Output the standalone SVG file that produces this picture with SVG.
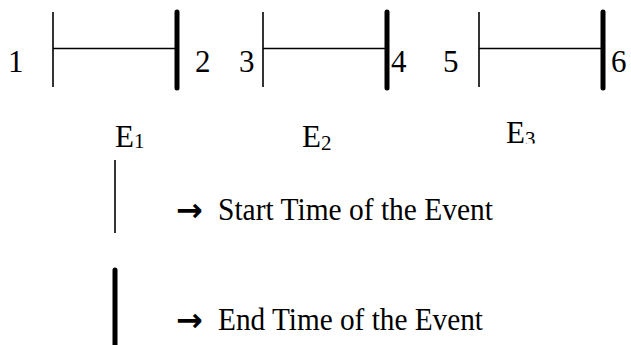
<svg xmlns="http://www.w3.org/2000/svg" width="631" height="345" viewBox="0 0 631 345">
<style>
text{font-family:"Liberation Serif","Times New Roman",serif;font-size:31px;fill:#000}
text.sub,tspan.sub{font-size:21px}
text.arr{font-family:"DejaVu Sans",sans-serif;font-size:32px;font-weight:bold}
.thin{stroke:#000;stroke-width:1.6;fill:none}
.thick{stroke:#000;stroke-width:5;stroke-linecap:round;fill:none}
</style>
<defs>
<clipPath id="clipE3"><rect x="490" y="100" width="100" height="43.5"/></clipPath>
</defs>
<rect width="631" height="345" fill="#fff"/>
<g id="event1">
<line class="thin" x1="53" y1="12" x2="53" y2="87"/>
<line class="thin" x1="53" y1="48.5" x2="177" y2="48.5"/>
<line class="thick" x1="177" y1="12" x2="177" y2="88"/>
<text x="8" y="72">1</text>
<text x="195" y="72">2</text>
<text x="115" y="147">E<tspan class="sub" dy="1">1</tspan></text>
</g>
<g id="event2">
<line class="thin" x1="263" y1="12" x2="263" y2="87"/>
<line class="thin" x1="263" y1="48.5" x2="387" y2="48.5"/>
<line class="thick" x1="387" y1="12" x2="387" y2="88"/>
<text x="239" y="72">3</text>
<text x="391" y="72">4</text>
<text x="302" y="147">E<tspan class="sub" dy="3">2</tspan></text>
</g>
<g id="event3">
<line class="thin" x1="479" y1="12" x2="479" y2="87"/>
<line class="thin" x1="479" y1="48.5" x2="603" y2="48.5"/>
<line class="thick" x1="603" y1="12" x2="603" y2="88"/>
<text x="443" y="72">5</text>
<text x="611" y="72">6</text>
<text x="506" y="143" clip-path="url(#clipE3)">E<tspan class="sub" dy="3">3</tspan></text>
</g>
<g id="legend">
<line class="thin" x1="115" y1="160" x2="115" y2="233"/>
<text class="arr" x="176" y="221" font-size="32">→</text>
<text x="218" y="220" textLength="275" lengthAdjust="spacingAndGlyphs">Start Time of the Event</text>
<line class="thick" x1="115" y1="270" x2="115" y2="350"/>
<text class="arr" x="176" y="331" font-size="32">→</text>
<text x="218" y="330" textLength="265" lengthAdjust="spacingAndGlyphs">End Time of the Event</text>
</g>
</svg>
